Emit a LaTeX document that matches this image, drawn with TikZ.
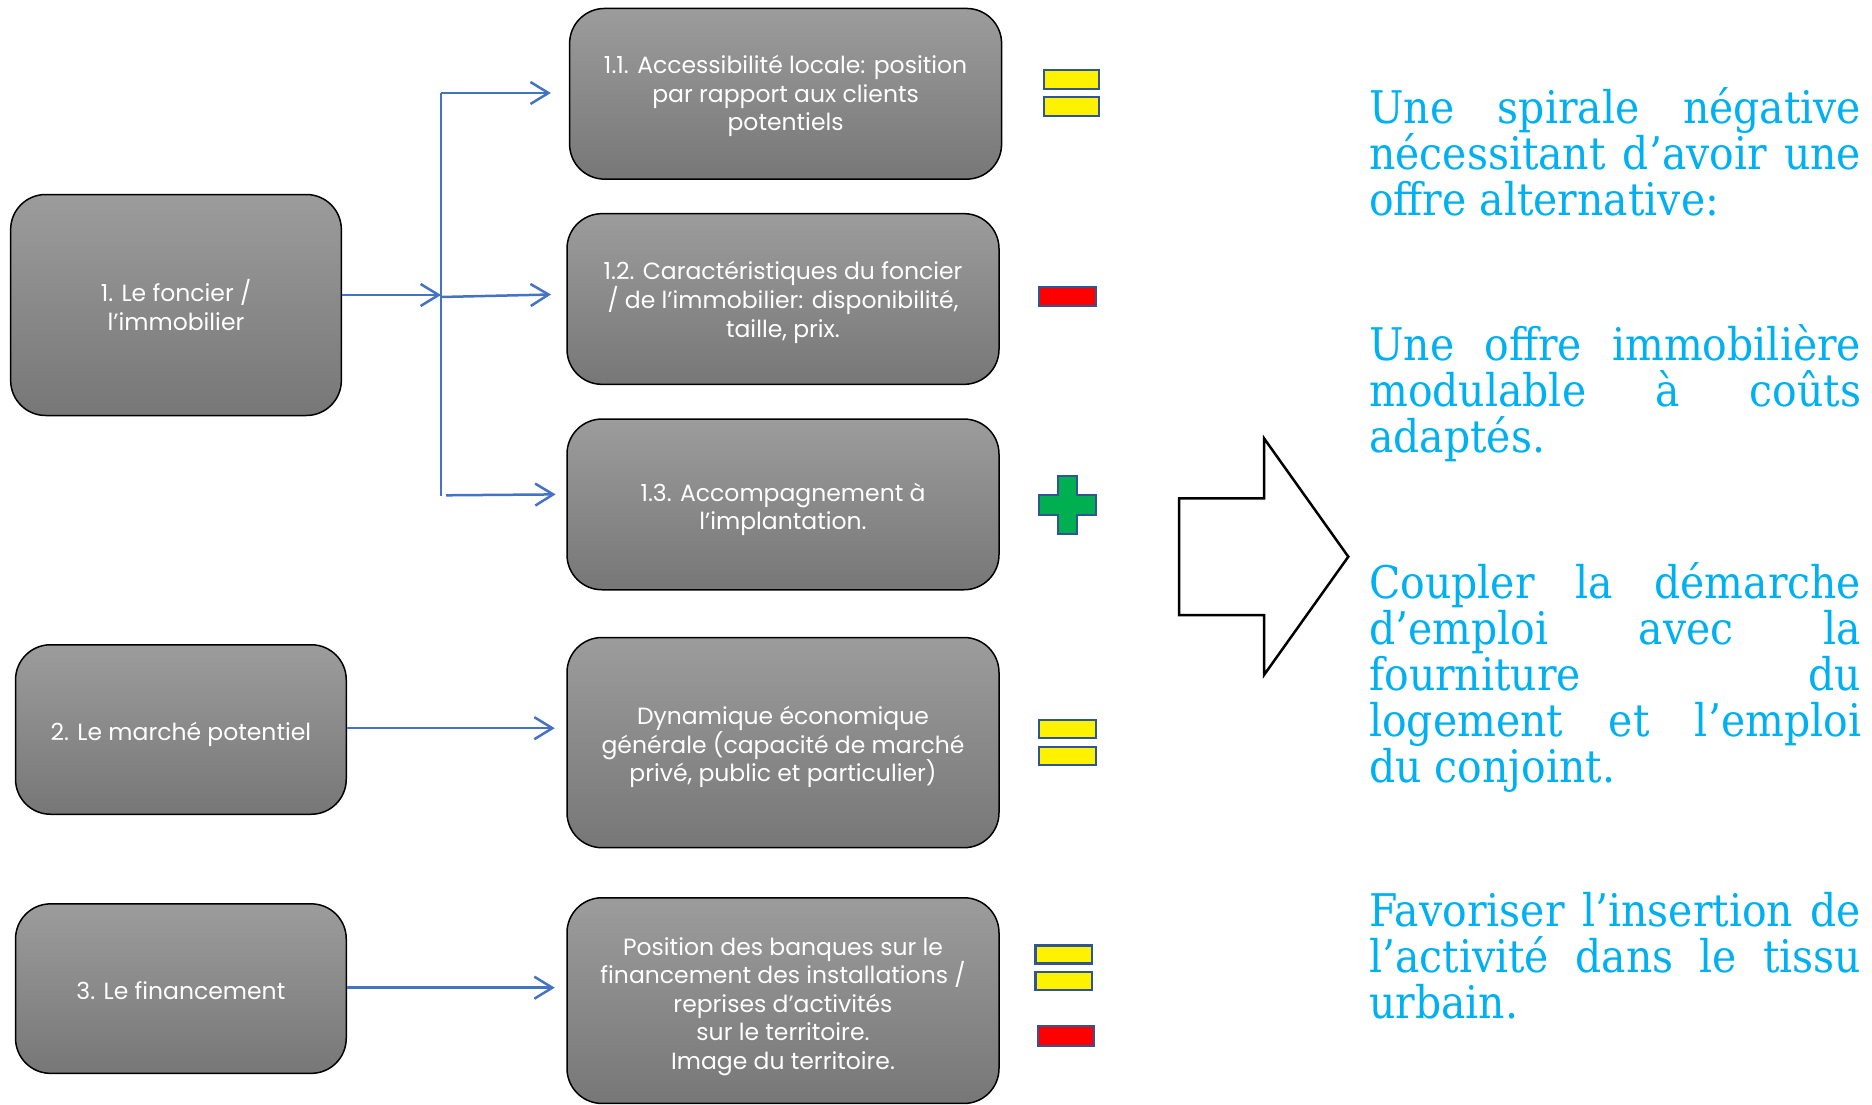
\documentclass[tikz,border=0pt]{standalone}
\usepackage{fontspec}
\usetikzlibrary{arrows.meta}
\newfontfamily\boxfont{Poppins}
\newfontfamily\rightfont[FakeStretch=0.91]{DejaVu Serif}
\definecolor{cblue}{HTML}{4472C4}
\definecolor{symblue}{HTML}{2F5597}
\definecolor{gtop}{HTML}{9C9C9C}
\definecolor{gbot}{HTML}{777777}
\definecolor{txtblue}{HTML}{00B0F0}
\definecolor{symgreen}{HTML}{00B050}
\begin{document}
\begin{tikzpicture}[x=1pt,y=-1pt,
  gbox/.style={draw=black, line width=1.5pt, rounded corners=35pt, top color=gtop, bottom color=gbot, inner sep=0pt},
  btext/.style={text=white, font=\boxfont\fontsize{23.5}{28.6}\selectfont, align=center, inner sep=0pt},
  wbox/.style={gbox, minimum width=432pt},
  lbox/.style={gbox, minimum width=330.7pt},
  conn/.style={draw=cblue, line width=2.5pt, -{Straight Barb[length=18pt,width=22pt,line width=2.5pt]}},
  sym/.style={draw=symblue, line width=2.2pt},
  rtext/.style={text=txtblue, font=\rightfont\fontsize{45}{46}\selectfont, inner sep=0pt, anchor=base west}]
\useasboundingbox (0,0) rectangle (1872,1105);

% boxes
\node[lbox, minimum height=221pt] (b1) at (176,305) {};
\node[wbox, minimum height=170.7pt] (b11) at (785.6,93.8) {};
\node[wbox, minimum height=170.7pt] (b12) at (783,299) {};
\node[wbox, minimum height=170.7pt] (b13) at (783,504.4) {};
\node[lbox, minimum height=169.5pt] (b2) at (180.9,729.5) {};
\node[wbox, minimum height=210.2pt] (bdyn) at (783,742.6) {};
\node[lbox, minimum height=169.5pt] (b3) at (180.9,988.6) {};
\node[wbox, minimum height=205.7pt] (bpos) at (783,1000.6) {};

% box texts
\node[btext] (t1) at (b1.center) {1. Le foncier /\\l’immobilier};
\node[btext] (t11) at ([yshift=-2.4pt]b11.center) {1.1. Accessibilité locale: position\\par rapport aux clients\\potentiels};
\node[btext] (t12) at ([yshift=-3.4pt]b12.center) {1.2. Caractéristiques du foncier\\/ de l’immobilier: disponibilité,\\taille, prix.};
\node[btext] (t13) at ([yshift=-5pt]b13.center) {1.3. Accompagnement à\\l’implantation.};
\node[btext] (t2) at ([yshift=-4.8pt]b2.center) {2. Le marché potentiel};
\node[btext] (tdyn) at ([yshift=-4.6pt]bdyn.center) {Dynamique économique\\générale (capacité de marché\\privé, public et particulier)};
\node[btext] (t3) at ([yshift=-2.4pt]b3.center) {3. Le financement};
\node[btext] (tpos) at ([yshift=-6pt]bpos.center) {Position des banques sur le\\financement des installations /\\reprises d’activités\\sur le territoire.\\Image du territoire.};

% connectors
\coordinate (vtop) at (441,93);
\coordinate (vbot) at (441,495.5);
\coordinate (vmid) at (441,295);
\coordinate (s12) at (441,297);
\coordinate (e12) at (551,294.5);
\coordinate (s13) at (446,495.3);
\coordinate (e13) at (555.6,494.4);
\draw[cblue, line width=1.2pt] (vtop) -- (vbot);
\draw[conn, shorten >=18pt] (vtop) -- (b11.west |- vtop);
\draw[conn] (b1.east |- vmid) -- (vmid);
\draw[conn] (s12) -- (e12);
\draw[conn] (s13) -- (e13);
\draw[conn, shorten >=11.5pt] (b2.east |- 0,728.2) -- (bdyn.west |- 0,728.2);
\draw[conn, shorten >=11.5pt] (b3.east |- 0,987.7) -- (bpos.west |- 0,987.7);

% symbols
\draw[sym, fill=yellow] (1044,70) rectangle (1099,89);
\draw[sym, fill=yellow] (1044,97) rectangle (1099,116);
\draw[sym, fill=red] (1039,286.7) rectangle (1096,306);
\draw[sym, fill=symgreen] (1057.7,476.3) -- (1077.3,476.3) -- (1077.3,495.3) -- (1096.3,495.3) -- (1096.3,514.7) -- (1077.3,514.7) -- (1077.3,533.7) -- (1057.7,533.7) -- (1057.7,514.7) -- (1038.7,514.7) -- (1038.7,495.3) -- (1057.7,495.3) -- cycle;
\draw[sym, fill=yellow] (1039,720) rectangle (1096,738);
\draw[sym, fill=yellow] (1039,747) rectangle (1096,765);
\draw[sym, fill=yellow] (1035.4,945.4) rectangle (1092,963.4);
\draw[sym, fill=yellow] (1035.4,972) rectangle (1092,990);
\draw[sym, fill=red] (1038,1026) rectangle (1094,1045.7);

% block arrow
\draw[black, line width=2.5pt, line join=miter] (1179,498.3) -- (1264,498.3) -- (1264,438.3) -- (1348.3,556.7) -- (1264,675) -- (1264,615) -- (1179,615) -- cycle;

% right text
\node[rtext] (p1) at (1369,123.3) {\vtop{\hbox to 492pt{Une\hfill spirale\hfill négative}\hbox to 492pt{nécessitant\hfill d’avoir\hfill une}\hbox{offre alternative:}}};
\node[rtext] (p2) at (1369,360) {\vtop{\hbox to 492pt{Une\hfill offre\hfill immobilière}\hbox to 492pt{modulable\hfill à\hfill coûts}\hbox{adaptés.}}};
\node[rtext] (p3) at (1369,598.3) {\vtop{\hbox to 492pt{Coupler\hfill la\hfill démarche}\hbox to 492pt{d’emploi\hfill avec\hfill la}\hbox to 492pt{fourniture\hfill du}\hbox to 492pt{logement\hfill et\hfill l’emploi}\hbox{du conjoint.}}};
\node[rtext] (p4) at (1369,926.7) {\vtop{\hbox to 492pt{Favoriser\hfill l’insertion\hfill de}\hbox to 492pt{l’activité\hfill dans\hfill le\hfill tissu}\hbox{urbain.}}};
\end{tikzpicture}
\end{document}
